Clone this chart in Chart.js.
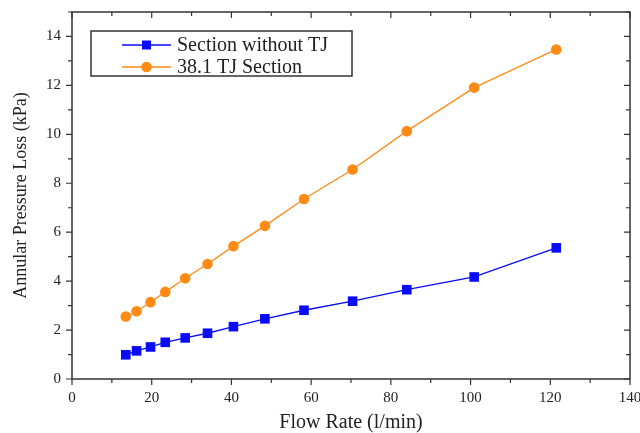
<!DOCTYPE html>
<html>
<head>
<meta charset="utf-8">
<script src="https://cdn.jsdelivr.net/npm/chart.js@4"></script>
<style>
  html, body { margin: 0; padding: 0; background: #fff; }
  #wrap { width: 640px; height: 433px; }
</style>
</head>
<body>
<div id="wrap"><canvas id="flowChart" width="640" height="433"></canvas></div>
<script>
const flowNoTJ = [13.5, 16.2, 19.7, 23.4, 28.4, 34.0, 40.5, 48.4, 58.2, 70.4, 84.0, 100.9, 121.5];
const lossNoTJ = [0.99, 1.15, 1.31, 1.50, 1.68, 1.87, 2.14, 2.46, 2.81, 3.18, 3.65, 4.17, 5.36];
const flowTJ = [13.5, 16.2, 19.7, 23.4, 28.4, 34.0, 40.5, 48.4, 58.2, 70.4, 84.0, 100.9, 121.5];
const lossTJ = [2.55, 2.77, 3.14, 3.56, 4.12, 4.70, 5.43, 6.26, 7.36, 8.56, 10.13, 11.91, 13.47];
const seriesNames = ['Section without TJ', '38.1 TJ Section'];
const xTitle = 'Flow Rate (l/min)';
const yTitle = 'Annular Pressure Loss (kPa)';

const serif = "'Liberation Serif', 'Times New Roman', serif";
const ink = '#222';
const blue = '#0a0aff';
const orange = '#ff8a14';

const toPoints = (xs, ys) => xs.map((x, i) => ({ x: x, y: ys[i] }));

// frame, mirrored ticks and the boxed legend inside the plot
const framePlugin = {
  id: 'frame',
  afterDraw(chart) {
    const c = chart.ctx;
    const a = chart.chartArea;
    const xs = chart.scales.x;
    const ys = chart.scales.y;
    c.save();
    c.strokeStyle = '#333';
    c.lineWidth = 1.5;
    c.strokeRect(a.left, a.top, a.right - a.left, a.bottom - a.top);
    c.lineWidth = 1.2;
    c.beginPath();
    for (let v = 0; v <= 140; v += 10) {
      const px = xs.getPixelForValue(v);
      const len = v % 20 === 0 ? 6 : 4;
      c.moveTo(px, a.bottom); c.lineTo(px, a.bottom + len);
      c.moveTo(px, a.top); c.lineTo(px, a.top + len);
    }
    for (let v = 0; v <= 15; v += 1) {
      const py = ys.getPixelForValue(v);
      const len = v % 2 === 0 ? 6 : 4;
      c.moveTo(a.left, py); c.lineTo(a.left - len, py);
      c.moveTo(a.right, py); c.lineTo(a.right - len, py);
    }
    c.stroke();

    // legend
    const bx = 91, by = 31, bw = 261, bh = 45;
    c.fillStyle = '#fff';
    c.fillRect(bx, by, bw, bh);
    c.strokeStyle = '#333';
    c.lineWidth = 1.5;
    c.strokeRect(bx, by, bw, bh);
    const rows = [45, 67];
    chart.data.datasets.forEach((ds, i) => {
      const y = rows[i];
      c.strokeStyle = ds.borderColor;
      c.lineWidth = 1.3;
      c.beginPath();
      c.moveTo(122, y); c.lineTo(171, y);
      c.stroke();
      c.fillStyle = ds.backgroundColor;
      c.beginPath();
      if (ds.pointStyle === 'rect') {
        c.rect(146.5 - 4.5, y - 4.5, 9, 9);
      } else {
        c.arc(146.5, y, 5.2, 0, Math.PI * 2);
      }
      c.fill();
      c.fillStyle = ink;
      c.font = '20px ' + serif;
      c.textBaseline = 'middle';
      c.textAlign = 'left';
      c.fillText(ds.label, 177, y + 1);
    });
    c.restore();
  }
};

const chart = new Chart(document.getElementById('flowChart').getContext('2d'), {
  type: 'line',
  data: {
    datasets: [
      {
        label: seriesNames[0],
        data: toPoints(flowNoTJ, lossNoTJ),
        borderColor: blue,
        backgroundColor: blue,
        borderWidth: 1.3,
        pointStyle: 'rect',
        pointRadius: 6.8,
        pointBorderWidth: 0,
        tension: 0
      },
      {
        label: seriesNames[1],
        data: toPoints(flowTJ, lossTJ),
        borderColor: orange,
        backgroundColor: orange,
        borderWidth: 1.3,
        pointStyle: 'circle',
        pointRadius: 5.3,
        pointBorderWidth: 0,
        tension: 0
      }
    ]
  },
  options: {
    responsive: false,
    animation: false,
    layout: { padding: { top: 12, right: 10, left: 0, bottom: 0 } },
    plugins: {
      legend: { display: false },
      tooltip: { enabled: false }
    },
    scales: {
      x: {
        type: 'linear',
        min: 0,
        max: 140,
        border: { display: false },
        grid: { display: false, drawTicks: false },
        ticks: {
          stepSize: 20,
          padding: 10,
          color: ink,
          font: { family: serif, size: 15 }
        },
        title: {
          display: true,
          text: xTitle,
          color: ink,
          padding: { top: 6, bottom: 0 },
          font: { family: serif, size: 20, lineHeight: 1 }
        },
        afterFit(scale) {
          scale.height = 54;
          scale.paddingLeft = 0;
          scale.paddingRight = 0;
        }
      },
      y: {
        min: 0,
        max: 15,
        border: { display: false },
        grid: { display: false, drawTicks: false },
        afterBuildTicks(scale) {
          scale.ticks = scale.ticks.filter(t => t.value % 2 === 0);
        },
        ticks: {
          stepSize: 1,
          padding: 11,
          color: ink,
          font: { family: serif, size: 15 }
        },
        title: {
          display: true,
          text: yTitle,
          color: ink,
          padding: { top: 12, bottom: 0 },
          font: { family: serif, size: 18, lineHeight: 1 }
        },
        afterFit(scale) {
          scale.width = 72;
          scale.paddingTop = 0;
          scale.paddingBottom = 0;
        }
      }
    }
  },
  plugins: [framePlugin]
});
</script>
</body>
</html>
